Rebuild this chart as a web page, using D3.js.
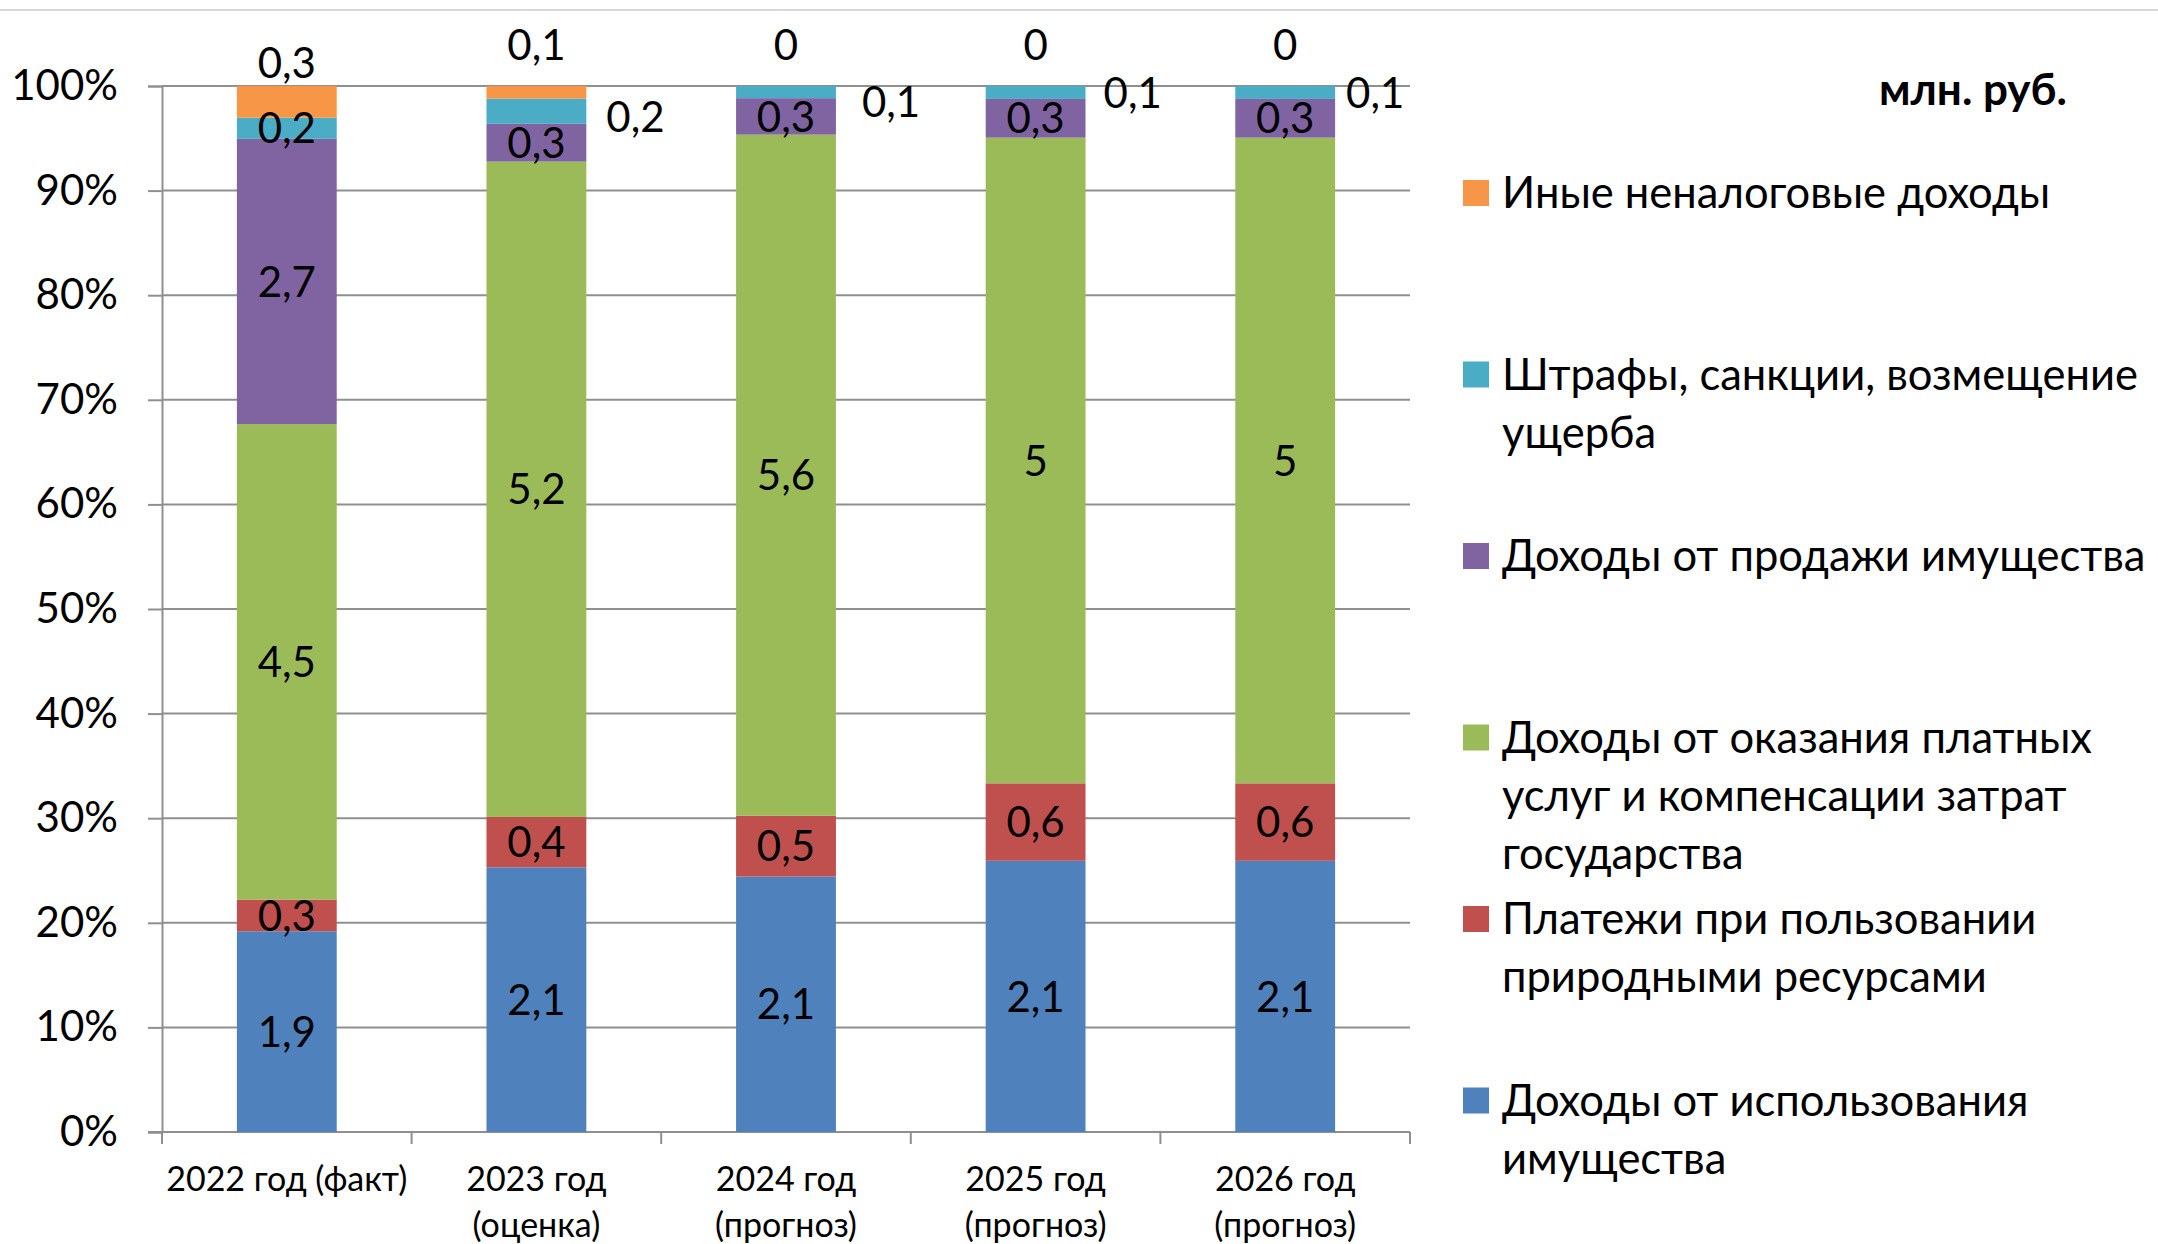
<!DOCTYPE html>
<html>
<head>
<meta charset="utf-8">
<script src="https://cdn.jsdelivr.net/npm/d3@7"></script>
<style>
  html, body { margin: 0; padding: 0; background: #fff; }
  svg { display: block; font-family: Lato, Roboto, sans-serif; }
</style>
</head>
<body>
<div id="main"></div>
<script>
// data
var categories = ["2022 год (факт)", "2023 год (оценка)", "2024 год (прогноз)", "2025 год (прогноз)", "2026 год (прогноз)"];
var catLines = [["2022 год (факт)"], ["2023 год", "(оценка)"], ["2024 год", "(прогноз)"], ["2025 год", "(прогноз)"], ["2026 год", "(прогноз)"]];

var useProperty  = [1.9, 2.1, 2.1, 2.1, 2.1];
var naturalRes   = [0.3, 0.4, 0.5, 0.6, 0.6];
var paidServices = [4.5, 5.2, 5.6, 5, 5];
var saleProperty = [2.7, 0.3, 0.3, 0.3, 0.3];
var fines        = [0.2, 0.2, 0.1, 0.1, 0.1];
var otherIncome  = [0.3, 0.1, 0, 0, 0];

var seriesKeys = ["use", "nat", "paid", "sale", "fines", "other"];
var seriesValues = [useProperty, naturalRes, paidServices, saleProperty, fines, otherIncome];
var seriesNames = [
    ["Доходы от использования", "имущества"],
    ["Платежи при пользовании", "природными ресурсами"],
    ["Доходы от оказания платных", "услуг и компенсации затрат", "государства"],
    ["Доходы от продажи имущества"],
    ["Штрафы, санкции, возмещение", "ущерба"],
    ["Иные неналоговые доходы"]
];
var seriesColors = ["#4F81BD", "#C0504D", "#9BBB59", "#8064A2", "#4BACC6", "#F79646"];

var yTicks = [0, 0.1, 0.2, 0.3, 0.4, 0.5, 0.6, 0.7, 0.8, 0.9, 1];
var unitLabel = "млн. руб.";

// layout
var width = 2158, height = 1244;
var plotLeft = 162, plotRight = 1410, plotTop = 86, plotBottom = 1132;
var gridColor = "#8f8f8f";
// label tweaks (px): orange labels sit above the bar, teal ones beside it
var otherLift = [23, 41, 41, 41, 41];
var finesSide = [false, true, true, true, true];
var finesDx = [0, 20, 26, 18, 11];
var finesDy = [0, 6, 10, 0, 0];

var table = categories.map(function(c, i) {
    var row = {cat: c};
    seriesKeys.forEach(function(k, j) { row[k] = seriesValues[j][i]; });
    return row;
});

var stacked = d3.stack().keys(seriesKeys).offset(d3.stackOffsetExpand)(table);

var x = d3.scaleBand().domain(categories).range([plotLeft, plotRight])
    .paddingInner(0.6).paddingOuter(0.3);
var y = d3.scaleLinear().domain([0, 1]).range([plotBottom, plotTop]);

var svg = d3.select("#main").append("svg")
    .attr("width", width)
    .attr("height", height);

// top border
svg.append("line")
    .attr("x1", 0).attr("x2", width)
    .attr("y1", 10).attr("y2", 10)
    .attr("stroke", "#d9d9d9").attr("stroke-width", 2);

// grid
svg.append("g").selectAll("line")
    .data(yTicks)
    .enter().append("line")
    .attr("x1", plotLeft).attr("x2", plotRight)
    .attr("y1", function(d) { return y(d); })
    .attr("y2", function(d) { return y(d); })
    .attr("stroke", gridColor).attr("stroke-width", 2);

// y axis
var yAxis = svg.append("g")
    .attr("transform", "translate(" + plotLeft + ",0)")
    .call(d3.axisLeft(y).tickValues(yTicks).tickFormat(d3.format(".0%"))
        .tickSize(14).tickPadding(30));
yAxis.select(".domain").attr("stroke", gridColor).attr("stroke-width", 2);
yAxis.selectAll(".tick line").attr("stroke", gridColor).attr("stroke-width", 2);
yAxis.selectAll(".tick text")
    .attr("font-family", "Lato, Roboto, sans-serif")
    .attr("font-size", 42)
    .attr("fill", "#000");

// x axis: baseline and ticks at category borders
var step = x.step();
svg.append("line")
    .attr("x1", plotLeft - 14).attr("x2", plotRight)
    .attr("y1", plotBottom).attr("y2", plotBottom)
    .attr("stroke", gridColor).attr("stroke-width", 2);
svg.append("g").selectAll("line")
    .data(d3.range(categories.length + 1))
    .enter().append("line")
    .attr("x1", function(i) { return plotLeft + i * step; })
    .attr("x2", function(i) { return plotLeft + i * step; })
    .attr("y1", plotBottom).attr("y2", plotBottom + 12)
    .attr("stroke", gridColor).attr("stroke-width", 2);

var xLab = svg.append("g").selectAll("text")
    .data(categories)
    .enter().append("text")
    .attr("text-anchor", "middle")
    .attr("font-size", 34)
    .attr("fill", "#000");
xLab.each(function(c, i) {
    var t = d3.select(this);
    catLines[i].forEach(function(line, k) {
        t.append("tspan")
            .attr("x", x(c) + x.bandwidth() / 2)
            .attr("y", 1191 + k * 46)
            .text(line);
    });
});

// bars
var layers = svg.append("g").selectAll("g")
    .data(stacked)
    .enter().append("g")
    .attr("fill", function(d, i) { return seriesColors[i]; });

layers.selectAll("rect")
    .data(function(d) { return d; })
    .enter().append("rect")
    .attr("x", function(d) { return x(d.data.cat); })
    .attr("width", x.bandwidth())
    .attr("y", function(d) { return y(d[1]); })
    .attr("height", function(d) { return y(d[0]) - y(d[1]); });

// data labels
function fmt(v) { return String(v).replace(".", ","); }

var labels = svg.append("g")
    .attr("font-size", 42)
    .attr("fill", "#000");

stacked.forEach(function(layer, si) {
    layer.forEach(function(d, i) {
        var cx = x(d.data.cat) + x.bandwidth() / 2;
        var cy = (y(d[0]) + y(d[1])) / 2;
        var anchor = "middle";
        if (layer.key === "other") {
            cy = y(1) - otherLift[i];
        } else if (layer.key === "fines" && finesSide[i]) {
            cx = x(d.data.cat) + x.bandwidth() + finesDx[i];
            cy = cy + finesDy[i];
            anchor = "start";
        }
        labels.append("text")
            .attr("x", cx)
            .attr("y", cy)
            .attr("dy", "0.36em")
            .attr("text-anchor", anchor)
            .text(fmt(seriesValues[si][i]));
    });
});

// legend
var legend = svg.append("g").attr("font-size", 43.5).attr("fill", "#000");
var legendOrder = d3.range(seriesKeys.length).reverse();
legendOrder.forEach(function(si, k) {
    var top = 180 + k * 181.5;
    legend.append("rect")
        .attr("x", 1463).attr("y", top)
        .attr("width", 26).attr("height", 26)
        .attr("fill", seriesColors[si]);
    var t = legend.append("text");
    seriesNames[si].forEach(function(line, j) {
        t.append("tspan")
            .attr("x", 1502)
            .attr("y", top + 28 + j * 58)
            .text(line);
    });
});

svg.append("text")
    .attr("x", 2067).attr("y", 105)
    .attr("text-anchor", "end")
    .attr("font-size", 44)
    .attr("font-weight", "bold")
    .text(unitLabel);
</script>
</body>
</html>
